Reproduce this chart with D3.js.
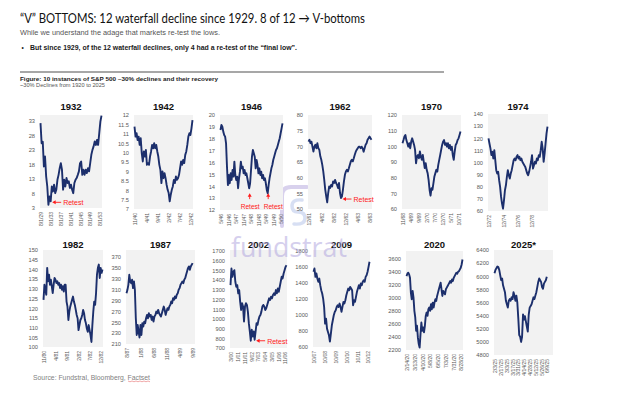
<!DOCTYPE html>
<html><head><meta charset="utf-8">
<script src="https://cdn.jsdelivr.net/npm/d3@7"></script>
<style>body{margin:0;background:#fff}svg{display:block}</style>
</head><body>
<svg id="c" width="624" height="395"></svg>
<script>
// ---------- data ----------
const titles = ["1932","1942","1946","1962","1970","1974","1982","1987","2002","2009","2020","2025*"];

const v1932 = [32.2,25.3,25.8,17.3,20.7,13.9,10.4,4.1,7,5.3,10.4,8.7,11,8.1,9.3,12.7,14.4,16.7,18.4,16.2,9.3,12.7,10.4,13.3,11.6,12.2,9.9,11,9.3,8.1,11.6,12.7,13.3,14.4,15.6,18.4,19,14.4,16.2,14.4,16.2,15,16.7,15.6,18.4,21.3,23,24.2,25.9,24.7,26.4,24.7,28.7,32.7,34.8];
const v1942 = [11.38,10.85,11.03,10.67,10.85,10.41,10.76,9.97,9.53,10.06,9.79,10.14,9.35,9.44,9.35,9.79,10.06,10.41,10.23,10.5,10.23,10.41,10.06,9.79,9.35,9.08,8.38,9.0,8.64,8.91,8.64,8.29,8.02,7.85,7.41,7.76,8.02,8.2,8.55,8.38,8.73,8.55,8.64,8.82,9.17,9.53,9.35,9.61,9.44,9.88,10.06,10.41,10.85,11.03,10.94,11.29,11.73];
const v1946 = [18.74,19.16,19.02,18.6,18.32,18.18,17.62,15.65,14.1,14.95,14.25,15.09,14.53,15.37,14.81,16.07,14.95,14.53,14.81,13.83,14.67,15.23,16.07,15.51,15.65,15.09,15.37,14.95,15.09,14.67,14.25,13.83,14.25,15.37,16.49,17.06,16.78,16.49,15.51,16.21,15.79,15.09,15.51,14.95,15.23,14.67,14.95,14.53,14.67,14.25,13.69,13.4,14.1,14.67,15.09,15.51,15.79,16.21,16.49,16.78,17.06,17.2,17.48,17.76,18.04,18.46,18.88,19.3];
const v1962 = [71.5,72.1,71,71.5,69.9,68.3,69.9,70.5,69.4,71,69.4,68.9,66.8,65.7,64.1,62,59.3,56.2,54,52.1,55.1,57.2,56.7,57.7,57.2,58.8,58.3,59.3,58.3,57.7,56.7,58.3,55.1,53.5,54,56.2,58.8,60.9,62,62.5,62,63,64.1,65.2,65.7,65.2,66.2,67.3,68.3,68.9,69.4,69.9,69.9,69.4,69.9,69.4,68.3,69.4,70.5,71,72.1,72.6,73.1,72.6,72.1];
const v1970 = [102,104,106.2,107.2,104,102,99.8,102,98.8,103,105.1,103,100.9,97.7,89.2,93.5,94.5,92.4,96.7,93.5,91.4,94.5,90.3,86.1,89.2,85,82.9,78.6,72.3,68.5,73.3,72.3,76.5,80.8,82.9,85,83.9,88.2,91.4,94.5,97.7,100.9,103,104,100.9,102,99.8,102,98.8,100.9,97.7,99.8,94.5,91.4,96.7,100.9,102,104,105.1,107.2,109.4];
const v1974 = [119.9,115.7,111.6,106.1,108.8,103.3,110.2,101.9,93.7,90.9,92.3,85.4,79.9,71.6,66.1,61.9,68.8,77.1,81.2,88.1,93.7,89.5,86.8,90.9,93.7,97.8,101.9,103.3,101.9,104.7,106.1,103.3,104.7,101.9,103.3,100.6,99.2,97.8,96.4,93.7,90.9,89.5,92.3,96.4,100.6,106.1,95,97.8,100.6,99.2,103.3,101.9,106.1,104.7,110.2,117.1,111.6,100.6,107.4,115.7,124,129.5];
const v1982 = [124.3,132.1,129.5,126.9,140.8,133.9,137.3,132.1,134.7,131.3,127.8,132.1,135.6,134.7,133,133.9,132.1,133,130.4,132.1,129.5,131.3,128.6,132.1,132.1,123.4,120.8,113.9,118.2,120.8,122.6,124.3,126,123.4,121.7,119.1,116.5,114.8,108.7,111.3,113.9,114.8,116.5,119.1,117.4,113.9,112.2,109.5,107.8,111.3,108.7,106.1,102.6,111.3,118.2,123.4,121.7,127.8,137.3,140.8,142.5,135.6,140.8,138.2,139.9];
const v1987 = [303.5,309.7,318.9,337.4,325.1,322,328.2,312.8,325.1,309.7,257.4,226.6,245.1,232.8,222,245,226.6,248.2,242,251.2,248.2,257.4,263.5,257.4,266.6,260.5,263.5,254.3,260.5,251.2,260.5,263.5,269.7,266.6,272.8,266.6,263.5,260.5,266.6,272.8,278.9,272.8,263.5,269.7,275.8,272.8,278.9,282,288.2,285.1,294.3,291.3,297.4,294.3,300.5,303.5,309.7,312.8,318.9,322,325.1,322,328.2,331.2,337.4,343.5,349.7,352.8,346.6,352.8,355.8,358.9];
const v2002 = [1348,1519,1434,1485,1502,1383,1331,1348,1263,1297,1178,1092,1161,1127,973,1127,1161,1144,1075,956,871,775,888,819,871,785,871,956,939,990,1024,1041,1075,1127,1144,1127,1092,1110,1144,1178,1212,1195,1229,1212,1246,1263,1246,1297,1263,1314,1280,1331,1383,1434,1417,1468,1502,1536,1553];
const v2009 = [1538,1579,1475,1517,1454,1413,1454,1371,1308,1267,1204,1100,892,954,829,788,746,667,767,871,933,996,1038,1058,1100,1121,1100,1142,1100,1038,1100,1163,1142,1183,1246,1288,1329,1308,1350,1329,1308,1121,1183,1163,1225,1288,1329,1371,1329,1392,1371,1413,1433,1413,1475,1496,1538,1600,1663];
const v2020 = [3335,3371,3386,3361,3310,3081,2979,3106,3004,2801,2699,2495,2572,2393,2292,2237,2444,2622,2495,2546,2470,2572,2724,2775,2724,2826,2852,2801,2903,2826,2928,2852,2928,2979,2953,3030,3081,3132,3182,3233,3132,3030,3106,3081,3055,3132,3157,3182,3208,3233,3259,3233,3284,3259,3310,3335,3361,3386,3371,3402,3411,3437,3462,3513,3590];
const v2025 = [6045,6097,6123,6149,6139,6097,6018,5940,5966,5862,5809,5757,5626,5574,5522,5626,5652,5626,5679,5652,5757,5705,5626,5705,5600,5365,5103,5077,4999,5077,5417,5339,5391,5312,5234,5156,5417,5522,5548,5574,5626,5679,5652,5705,5757,5835,5914,5966,5940,5914,5835,5809,5888,5914,5940,5992];

const y1932 = [3,8,13,18,23,28,33];
const y1942 = [7,7.5,8,8.5,9,9.5,10,10.5,11,11.5,12];
const y1946 = [12,13,14,15,16,17,18,19,20];
const y1962 = [50,55,60,65,70,75,80];
const y1970 = [60,70,80,90,100,110,120];
const y1974 = [60,70,80,90,100,110,120,130,140];
const y1982 = [100,105,110,115,120,125,130,135,140,145,150];
const y1987 = [210,230,250,270,290,310,330,350,370];
const y2002 = [700,800,900,1000,1100,1200,1300,1400,1500,1600,1700];
const y2009 = [600,800,1000,1200,1400,1600,1800];
const y2020 = [2200,2400,2600,2800,3000,3200,3400,3600];
const y2025 = [4800,5000,5200,5400,5600,5800,6000,6200,6400];

const x1932 = ["8/1/29","8/1/33","8/1/37","8/1/41","8/1/45","8/1/49","8/1/53"];
const x1942 = ["11/40","4/41","9/41","2/42","7/42","12/42"];
const x1946 = ["5/46","11/46","5/47","11/47","5/48","11/48","5/49","11/49","5/50"];
const x1962 = ["12/61","4/62","8/62","12/62","4/63","8/63"];
const x1970 = ["11/68","4/69","9/69","2/70","7/70","12/70","5/71","10/71"];
const x1974 = ["12/72","12/74","12/76","12/78"];
const x1982 = ["11/80","4/81","9/81","2/82","7/82","12/82"];
const x1987 = ["8/87","1/88","6/88","11/88","4/89","9/89"];
const x2002 = ["3/00","1/01","11/01","9/02","7/03","5/04","3/05","1/06","11/06"];
const x2009 = ["10/07","10/08","10/09","10/10","10/11","10/12"];
const x2020 = ["2/14/20","3/13/20","4/10/20","5/8/20","6/5/20","7/3/20","7/31/20","8/28/20"];
const x2025 = ["2/3/25","2/17/25","3/3/25","3/17/25","3/31/25","4/14/25","4/28/25","5/12/25","5/26/25","6/9/25"];

// retest annotations: panel, point index, arrow direction
const retests = [
  {panel:"1932", idx:9,  dir:"left"},
  {panel:"1946", idx:31, dir:"up", dx:0},
  {panel:"1946", idx:51, dir:"up", dx:4.5},
  {panel:"1962", idx:33, dir:"left"},
  {panel:"2002", idx:25, dir:"left"}
];

// ---------- layout ----------
const panels = [
  {values:v1932, yt:y1932, xl:x1932, box:[40,115,102,208], dom:[3,35], ty:109.5},
  {values:v1942, yt:y1942, xl:x1942, box:[134,115,193,209], dom:[7,12], ty:109.5},
  {values:v1946, yt:y1946, xl:x1946, box:[220,115,283,210], dom:[12,20], ty:109.5},
  {values:v1962, yt:y1962, xl:x1962, box:[308,115,372,209], dom:[50,80], ty:109.5},
  {values:v1970, yt:y1970, xl:x1970, box:[402,115,461,209], dom:[60,120], ty:109.5},
  {values:v1974, yt:y1974, xl:x1974, box:[488,114,548,211], dom:[60,140], ty:109.5, span:0.75},
  {values:v1982, yt:y1982, xl:x1982, box:[43,250,103,347], dom:[100,150], ty:248},
  {values:v1987, yt:y1987, xl:x1987, box:[126,250,195,344], dom:[210,383], ty:248, pad:2},
  {values:v2002, yt:y2002, xl:x2002, box:[230,250,287,348], dom:[700,1710], ty:248},
  {values:v2009, yt:y2009, xl:x2009, box:[313,250,370,347], dom:[600,1810], ty:248},
  {values:v2020, yt:y2020, xl:x2020, box:[406,251,463,350], dom:[2200,3720], ty:248},
  {values:v2025, yt:y2025, xl:x2025, box:[494,250,553,355], dom:[4800,6400], ty:248, pad:6, span:0.93}
];
panels.forEach((p,i)=>p.title = titles[i]);

const FONT = "'Liberation Sans', Arial, sans-serif";
const svg = d3.select("#c");
svg.append("rect").attr("width",624).attr("height",395).attr("fill","#fff");

// ---------- watermark / logo (behind) ----------
const wm = svg.append("g").attr("opacity",0.55);
wm.append("path").attr("d","M307,187 H291 Q282,187 282,196 V226")
  .attr("fill","none").attr("stroke","#b9acdf").attr("stroke-width",4).attr("stroke-linecap","round");
wm.append("path").attr("d","M302,200 Q292,199 292,206 Q292,212 298,212 Q305,212 305,218 Q305,225 294,224")
  .attr("fill","none").attr("stroke","#b8c6ea").attr("stroke-width",3.5).attr("stroke-linecap","round");

// ---------- header ----------
svg.append("text").attr("x",20).attr("y",23)
  .attr("font-family","Lato, 'Open Sans', sans-serif").attr("font-size",13.5).attr("fill","#111")
  .attr("textLength",345).attr("lengthAdjust","spacingAndGlyphs")
  .text("“V” BOTTOMS: 12 waterfall decline since 1929.  8 of 12 → V-bottoms");
svg.append("text").attr("x",20).attr("y",34.5)
  .attr("font-family",FONT).attr("font-size",6.5).attr("fill","#555")
  .attr("textLength",200).attr("lengthAdjust","spacingAndGlyphs")
  .text("While we understand the adage that markets re-test the lows.");
svg.append("text").attr("x",21.5).attr("y",49.5)
  .attr("font-family",FONT).attr("font-size",6.5).attr("fill","#222").text("•");
svg.append("text").attr("x",30).attr("y",49.5)
  .attr("font-family",FONT).attr("font-size",6.3).attr("font-weight","bold").attr("fill","#1a1a1a")
  .attr("textLength",267).attr("lengthAdjust","spacingAndGlyphs")
  .text("But since 1929, of the 12 waterfall declines, only 4 had a re-test of the “final low”.");
svg.append("line").attr("x1",20).attr("x2",444).attr("y1",72).attr("y2",72)
  .attr("stroke","#8a8a8a").attr("stroke-width",1.5);
svg.append("text").attr("x",20).attr("y",81.3)
  .attr("font-family",FONT).attr("font-size",5.8).attr("font-weight","bold").attr("fill","#222")
  .attr("textLength",198).attr("lengthAdjust","spacingAndGlyphs")
  .text("Figure: 10 instances of S&P 500 ~30% declines and their recovery");
svg.append("text").attr("x",20).attr("y",87.3)
  .attr("font-family",FONT).attr("font-size",4.6).attr("fill","#555")
  .attr("textLength",85).attr("lengthAdjust","spacingAndGlyphs")
  .text("~30% Declines from 1920 to 2025");

// ---------- panels ----------
const scales = {};
panels.forEach(p=>{
  const [x0,y0,x1,y1] = p.box;
  const g = svg.append("g");
  g.append("rect").attr("x",x0).attr("y",y0).attr("width",x1-x0).attr("height",y1-y0).attr("fill","#f2f2f2");
  const n = p.values.length;
  const x = d3.scaleLinear().domain([0, n-1+(p.pad||0)]).range([x0+0.5, x1-0.5]);
  const y = d3.scaleLinear().domain(p.dom).range([y1, y0]);
  scales[p.title] = {x,y,values:p.values};

  const ay = g.append("g").attr("transform",`translate(${x0},0)`)
    .call(d3.axisLeft(y).tickValues(p.yt).tickSize(0).tickPadding(5).tickFormat(d=>d));
  ay.select(".domain").remove();
  ay.selectAll("text").attr("font-family",FONT).attr("font-size",5.7).attr("fill","#595959");

  const span = p.span || 1;
  const xp = d3.scalePoint().domain(p.xl).range([x0+1.5, x0+1.5+(x1-x0-3)*span]);
  g.selectAll("text.xl").data(p.xl).join("text").attr("class","xl")
    .attr("transform",d=>`translate(${xp(d)+1.8},${y1+4}) rotate(-90)`)
    .attr("text-anchor","end").attr("font-family",FONT).attr("font-size",5).attr("fill","#595959")
    .text(d=>d);

  g.append("text").attr("x",(x0+x1)/2).attr("y",p.ty).attr("text-anchor","middle")
    .attr("font-family",FONT).attr("font-size",9.5).attr("font-weight","bold").attr("fill","#111")
    .text(p.title);

  g.append("path").datum(p.values)
    .attr("d",d3.line().x((d,i)=>x(i)).y(d=>y(d)))
    .attr("fill","none").attr("stroke","#1c2f6c").attr("stroke-width",1.9)
    .attr("stroke-linejoin","round");
});

// ---------- retest annotations ----------
const red = "#ff1a1a";
retests.forEach(r=>{
  const s = scales[r.panel];
  const px = s.x(r.idx), py = s.y(s.values[r.idx]);
  const a = svg.append("g");
  if (r.dir === "left") {
    const hx = px+1.5, hy = py+1;
    a.append("line").attr("x1",hx+3).attr("x2",hx+9).attr("y1",hy).attr("y2",hy).attr("stroke",red).attr("stroke-width",0.9);
    a.append("path").attr("d",`M${hx},${hy}L${hx+3.5},${hy-2}L${hx+3.5},${hy+2}Z`).attr("fill",red);
    a.append("text").attr("x",hx+11).attr("y",hy+3).attr("font-family",FONT).attr("font-size",7)
      .attr("fill",red).text("Retest");
  } else {
    const hy = s.y(13.42), ty = s.y(12.12);
    a.append("line").attr("x1",px+0.5).attr("x2",px+0.5).attr("y1",hy+3).attr("y2",hy+6).attr("stroke",red).attr("stroke-width",0.9);
    a.append("path").attr("d",`M${px+0.5},${hy}L${px-1.5},${hy+3.5}L${px+2.5},${hy+3.5}Z`).attr("fill",red);
    a.append("text").attr("x",px+1+(r.dx||0)).attr("y",ty).attr("text-anchor","middle").attr("font-family",FONT)
      .attr("font-size",6.6).attr("fill",red).text("Retest");
  }
});

// ---------- watermark text ----------
svg.append("text").attr("x",231).attr("y",256.5).attr("font-family","'Open Sans', Lato, sans-serif")
  .attr("font-size",28).attr("fill","#b3a9df").attr("opacity",0.55)
  .attr("textLength",116).attr("lengthAdjust","spacingAndGlyphs").text("fundstrat");

// ---------- source ----------
svg.append("text").attr("x",33).attr("y",379.5).attr("font-family",FONT).attr("font-size",6.6)
  .attr("fill","#7f7f7f").attr("textLength",117).attr("lengthAdjust","spacingAndGlyphs")
  .text("Source: Fundstral, Bloomberg, Factset");
svg.append("path").attr("d",d3.range(128,150.5,2).map((v,i)=>(i?"L":"M")+v+","+(381+(i%2?0.8:0))).join(""))
  .attr("fill","none").attr("stroke","#e05050").attr("stroke-width",0.5);
</script>
</body></html>
